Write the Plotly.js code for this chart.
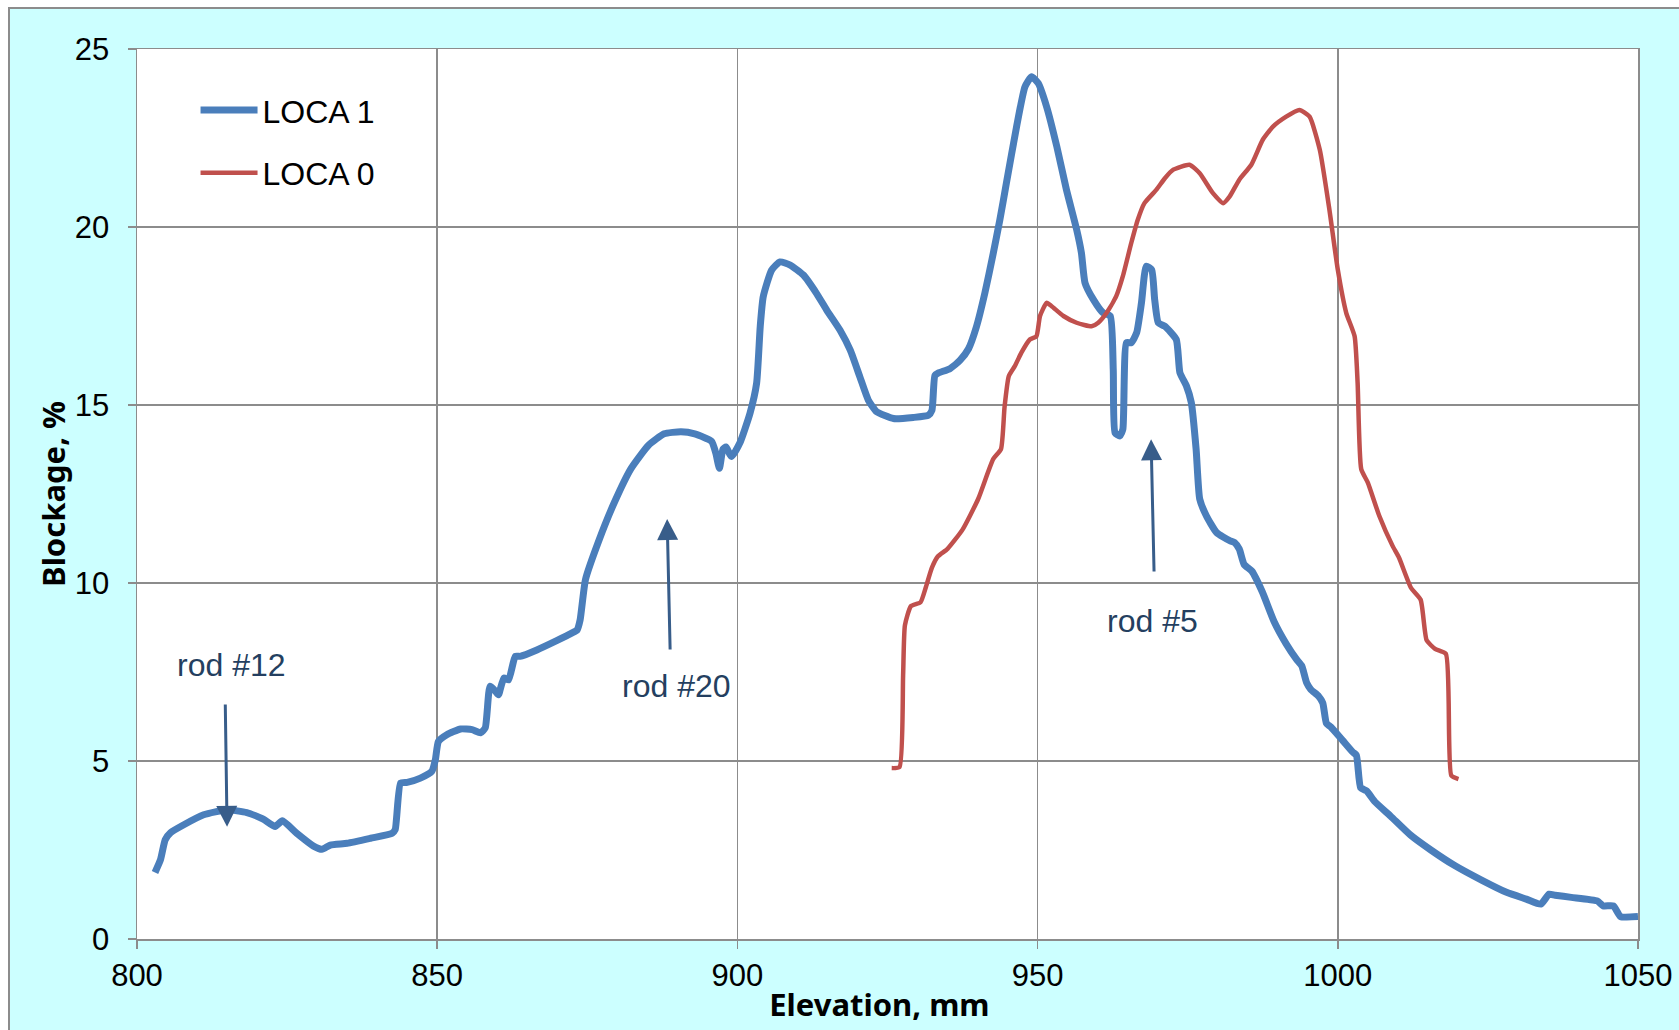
<!DOCTYPE html>
<html>
<head>
<meta charset="utf-8">
<script src="https://cdn.plot.ly/plotly-3.0.1.min.js"></script>
<style>
  html, body { margin: 0; padding: 0; background: #ffffff; }
  #bg { position: absolute; left: 8px; top: 7px; width: 1671px; height: 1023px;
        background: #CCFFFF; border-left: 2px solid #8c8c8c; border-top: 2px solid #8c8c8c; box-sizing: border-box; }
  #chart { position: absolute; left: 0; top: 0; width: 1679px; height: 1030px; }
</style>
</head>
<body>
<div id="bg"></div>
<div id="chart"></div>
<script>
// LOCA 1 (blue) : elevation (mm) vs blockage (%)
const loca1_x = [803.0, 803.9, 804.7, 805.6, 807.8, 811.1, 815.0, 818.3, 821.1, 823.0, 824.2, 826.6, 829.4, 830.8,
  832.2, 835.0, 838.9, 842.5, 843.0, 843.9, 845.0, 847.2, 849.1, 849.7, 850.2, 851.6, 853.9, 855.8, 857.2, 858.0,
  858.8, 859.7, 860.2, 861.1, 861.9, 863.0, 863.8, 866.6, 869.9, 872.4, 873.3, 873.8, 874.7, 876.9, 879.5, 882.3,
  885.2, 887.8, 890.6, 892.9, 895.7, 896.4, 897.0, 897.6, 898.1, 899.0, 900.4, 902.1, 903.2, 903.8, 904.3, 905.7,
  907.1, 908.8, 911.0, 913.2, 914.9, 917.1, 918.8, 920.4, 921.8, 923.2, 926.0, 929.3, 931.8, 932.4, 932.9, 933.5,
  935.4, 937.1, 938.5, 939.8, 941.2, 942.6, 943.7, 944.8, 946.5, 947.9, 949.0, 950.1, 951.5, 953.2, 954.8, 956.5,
  957.3, 957.9, 959.3, 960.9, 962.1, 962.6, 962.9, 963.7, 964.2, 964.8, 965.6, 966.5, 967.3, 968.1, 969.0, 969.5,
  970.1, 971.2, 973.1, 973.7, 974.8, 975.6, 976.4, 977.0, 978.1, 979.8, 982.0, 982.8, 983.6, 984.4, 985.7, 987.4,
  989.4, 991.4, 993.1, 994.0, 994.8, 995.5, 996.8, 997.5, 998.1, 998.8, 1000.8, 1002.5, 1003.1, 1003.8, 1004.8,
  1006.1, 1008.8, 1012.1, 1015.5, 1019.4, 1024.1, 1028.1, 1031.4, 1033.8, 1035.2, 1036.2, 1038.9, 1043.2, 1044.2,
  1045.9, 1047.1, 1050.0];
const loca1_y = [1.87, 2.22, 2.79, 2.99, 3.21, 3.49, 3.63, 3.55, 3.36, 3.16, 3.32, 2.97, 2.61, 2.52,
  2.64, 2.69, 2.83, 2.97, 3.07, 4.38, 4.40, 4.52, 4.71, 5.04, 5.55, 5.74, 5.90, 5.88, 5.79, 5.93,
  7.10, 6.96, 6.86, 7.33, 7.28, 7.94, 7.94, 8.12, 8.38, 8.59, 8.68, 8.96, 10.10, 11.18, 12.26, 13.22,
  13.87, 14.19, 14.25, 14.19, 13.98, 13.65, 13.22, 13.76, 13.82, 13.55, 13.93, 14.77, 15.61, 17.20, 18.04, 18.79,
  19.02, 18.93, 18.65, 18.13, 17.66, 17.10, 16.54, 15.79, 15.14, 14.81, 14.62, 14.65, 14.71, 14.85, 15.83, 15.90,
  16.02, 16.26, 16.58, 17.19, 18.13, 19.25, 20.19, 21.23, 22.82, 23.94, 24.22, 24.04, 23.38, 22.26, 21.05, 19.93,
  19.27, 18.43, 17.96, 17.59, 17.50, 16.00, 14.22, 14.13, 14.32, 16.75, 16.75, 17.03, 17.87, 18.90, 18.80, 17.96,
  17.31, 17.21, 16.84, 15.91, 15.53, 15.07, 13.76, 12.36, 11.89, 11.42, 11.19, 11.14, 10.95, 10.52, 10.33, 9.76,
  8.91, 8.29, 7.86, 7.67, 7.20, 7.01, 6.82, 6.63, 6.06, 5.96, 5.58, 5.25, 5.16, 4.25, 4.16,
  3.87, 3.45, 2.92, 2.50, 2.07, 1.64, 1.31, 1.12, 0.98, 1.26, 1.23, 1.17, 1.07, 0.93,
  0.93, 0.63, 0.63];

// LOCA 0 (red)
const loca0_x = [925.7, 927.0, 927.6, 927.9, 928.9, 930.5, 931.4, 932.4, 933.4, 935.0, 937.5, 940.1, 942.6, 943.9,
  944.5, 945.2, 946.2, 947.3, 948.7, 949.8, 950.4, 951.5, 952.3, 954.3, 956.5, 959.0, 960.1, 961.5, 963.1, 964.2,
  965.6, 966.7, 967.8, 969.8, 971.2, 972.6, 975.3, 977.0, 979.2, 980.9, 982.0, 983.6, 985.6, 987.5, 989.2, 991.4,
  993.6, 995.3, 997.0, 998.6, 1000.0, 1001.4, 1002.8, 1003.3, 1003.9, 1005.0, 1006.9, 1009.1, 1010.2, 1012.2,
  1013.8, 1014.8, 1016.2, 1018.0, 1018.9, 1020.1];
const loca0_y = [4.80, 4.83, 7.41, 8.81, 9.35, 9.46, 9.89, 10.43, 10.75, 10.96, 11.50, 12.36, 13.48, 13.76,
  14.95, 15.81, 16.09, 16.47, 16.84, 16.93, 17.50, 17.87, 17.78, 17.50, 17.31, 17.21, 17.31, 17.59, 18.06, 18.62,
  19.55, 20.21, 20.67, 21.05, 21.37, 21.61, 21.75, 21.51, 20.95, 20.67, 20.86, 21.33, 21.75, 22.45, 22.82, 23.10,
  23.29, 23.10, 22.17, 20.49, 18.80, 17.59, 16.93, 15.63, 13.20, 12.82, 11.89, 11.05, 10.71, 9.86,
  9.53, 8.39, 8.15, 8.01, 4.59, 4.49];

const seriesNames = ["LOCA 1", "LOCA 0"];
const xTicks = [800, 850, 900, 950, 1000, 1050];
const yTicks = [0, 5, 10, 15, 20, 25];
const rodLabels = ["rod #12", "rod #20", "rod #5"];

const BLUE = "#4A7EBB", RED = "#C0504D", GRID = "#8c8c8c";
const TXT = "#243F60", ARROW = "#385D8A";
const FONT = "Liberation Sans, Arial, sans-serif";
const BOLDFONT = "Noto Sans, sans-serif";

const traces = [
  { x: loca1_x, y: loca1_y, name: seriesNames[0], type: "scatter", mode: "lines", legendgroup: "a",
    line: { color: BLUE, width: 7, shape: "spline", smoothing: 0.5 } },
  { x: loca0_x, y: loca0_y, name: seriesNames[1], type: "scatter", mode: "lines", legendgroup: "b",
    line: { color: RED, width: 4.5, shape: "spline", smoothing: 0.5 } }
];

const axisCommon = {
  showgrid: true, gridcolor: GRID, gridwidth: 1.5,
  showline: true, linecolor: GRID, linewidth: 1.5, mirror: true,
  ticks: "outside", ticklen: 8, tickcolor: GRID, tickwidth: 1.5,
  zeroline: false, tickfont: { family: FONT, size: 31, color: "#000" }
};

function arrowAnn(hx, hy, tx, ty) {
  return { x: hx, y: hy, ax: tx, ay: ty, xref: "x", yref: "y", axref: "x", ayref: "y",
    text: "", showarrow: true, arrowhead: 2, arrowsize: 1.4, arrowwidth: 3, arrowcolor: ARROW, standoff: 0 };
}
function textAnn(x, y, t) {
  return { x: x, y: y, xref: "x", yref: "y", text: t, showarrow: false,
    font: { family: FONT, size: 32, color: TXT }, xanchor: "center", yanchor: "middle" };
}

const layout = {
  width: 1679, height: 1030,
  margin: { l: 137, r: 41, t: 49, b: 91, pad: 0 },
  paper_bgcolor: "rgba(0,0,0,0)", plot_bgcolor: "#ffffff",
  showlegend: true,
  legend: { x: 0.039, y: 0.962, xanchor: "left", yanchor: "top", bgcolor: "rgba(0,0,0,0)",
    font: { family: FONT, size: 32, color: "#000" }, tracegroupgap: 18, itemwidth: 57 },
  xaxis: Object.assign({}, axisCommon, {
    range: [800, 1050], tickvals: xTicks, ticklabelstandoff: 0,
    title: { text: "<b>Elevation, mm</b>&nbsp;&nbsp;", font: { family: BOLDFONT, size: 31, color: "#000" }, standoff: 2 }
  }),
  yaxis: Object.assign({}, axisCommon, {
    range: [0, 25], tickvals: yTicks, ticklabelstandoff: 12,
    title: { text: "<b>Blockage, %</b>", font: { family: BOLDFONT, size: 31, color: "#000" }, standoff: 0 }
  }),
  annotations: [
    textAnn(815.8, 7.70, rodLabels[0]), arrowAnn(815.0, 3.15, 814.7, 6.63),
    textAnn(889.8, 7.11, rodLabels[1]), arrowAnn(888.3, 11.80, 888.8, 8.09),
    textAnn(969.1, 8.93, rodLabels[2]), arrowAnn(968.9, 14.04, 969.4, 10.28)
  ]
};

Plotly.newPlot("chart", traces, layout, { displayModeBar: false, staticPlot: true });
</script>
</body>
</html>
